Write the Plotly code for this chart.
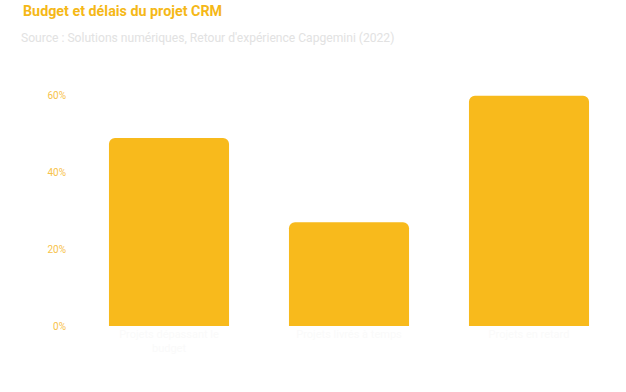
import plotly.graph_objects as go

categories = ["Projets dépassant le<br>budget", "Projets livrés à temps", "Projets en retard"]
values = [49, 27, 60]
tick_vals = [0, 20, 40, 60]
tick_text = ["0%", "20%", "40%", "60%"]

fig = go.Figure(go.Bar(
    x=categories, y=values,
    marker=dict(color="#F8BA1C", line=dict(width=0)),
    hoverinfo="skip",
))

fig.update_layout(
    width=626, height=392,
    margin=dict(l=79, r=7, t=88, b=66),
    paper_bgcolor="white", plot_bgcolor="white",
    bargap=0.333,
    barcornerradius=6,
    showlegend=False,
    font=dict(family="Roboto, sans-serif"),
    title=dict(
        text="<b>Budget et délais du projet CRM</b>",
        x=23/626, xanchor="left", xref="container",
        y=1-11/392, yanchor="middle", yref="container",
        font=dict(size=14.3, color="#F5B817", family="Roboto, sans-serif"),
    ),
    annotations=[dict(
        text="Source : Solutions numériques, Retour d'expérience Capgemini (2022)",
        xref="paper", yref="paper", x=(19-79)/540, xanchor="left",
        y=1+(88-38)/238, yanchor="middle", showarrow=False,
        font=dict(size=12.1, color="#E2E2E2", family="Roboto, sans-serif"),
    )],
)
fig.update_xaxes(
    showgrid=False, showline=False, zeroline=False, ticks="",
    tickfont=dict(size=11, color="#FAFAFA"),
)
fig.update_yaxes(
    range=[0, 62], tickvals=tick_vals, ticktext=tick_text,
    showgrid=False, showline=False, zeroline=False, ticks="",
    ticklabelstandoff=12,
    tickfont=dict(size=10, color="#F7C24A"),
)

fig.write_html("out.html", config={"displayModeBar": False},
               post_script="document.body.style.margin='0';")
